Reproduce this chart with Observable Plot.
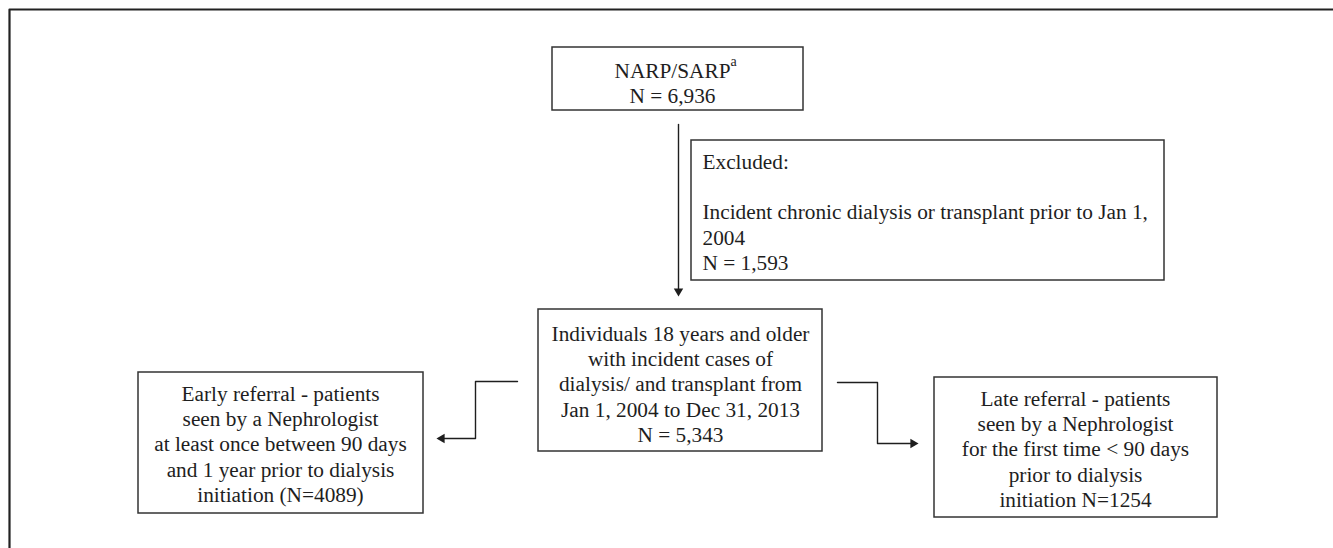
<!DOCTYPE html>
<html>
<head>
<meta charset="utf-8">
<script src="https://cdn.jsdelivr.net/npm/d3@7"></script>
<script src="https://cdn.jsdelivr.net/npm/@observablehq/plot@0.6"></script>
<style>
  html, body { margin: 0; padding: 0; background: #fff; }
  #chart svg { display: block; }
</style>
</head>
<body>
<div id="chart"></div>
<script>
// ---- Content (text and counts) ----
const boxIds = ["source", "excluded", "cohort", "early", "late"];
const boxTexts = [
  "NARP/SARP\nN = 6,936",
  "Excluded:\n\nIncident chronic dialysis or transplant prior to Jan 1,\n2004\nN = 1,593",
  "Individuals 18 years and older\nwith incident cases of\ndialysis/ and transplant from\nJan 1, 2004 to Dec 31, 2013\nN = 5,343",
  "Early referral - patients\nseen by a Nephrologist\nat least once between 90 days\nand 1 year prior to dialysis\ninitiation (N=4089)",
  "Late referral - patients\nseen by a Nephrologist\nfor the first time < 90 days\nprior to dialysis\ninitiation N=1254"
];
const footnoteMark = "a";
const flowFrom = ["source", "cohort", "cohort"];
const flowTo = ["cohort", "early", "late"];

// ---- Layout (pixel canvas coordinates) ----
const W = 1333, H = 548;
const layout = {
  source:   {x1: 552, x2: 803,  y1: 47,  y2: 110, tx: 672,  ty: 59,  anchor: "middle"},
  excluded: {x1: 691, x2: 1164, y1: 140, y2: 280, tx: 702,  ty: 150, anchor: "start"},
  cohort:   {x1: 538, x2: 822,  y1: 309, y2: 451, tx: 680,  ty: 322, anchor: "middle"},
  early:    {x1: 138, x2: 423,  y1: 372, y2: 513, tx: 280,  ty: 382, anchor: "middle"},
  late:     {x1: 934, x2: 1217, y1: 377, y2: 517, tx: 1075, ty: 387, anchor: "middle"}
};
const boxes = boxIds.map((id, i) => ({id, text: boxTexts[i], ...layout[id]}));

const connectorPaths = [
  [[678, 124], [678, 290]],
  [[517, 381], [475, 381], [475, 438], [442, 438]],
  [[837, 382], [877, 382], [877, 443], [912, 443]]
];
const connectors = connectorPaths.flatMap((pts, k) =>
  pts.map(([x, y]) => ({k, from: flowFrom[k], to: flowTo[k], x, y})));
const heads = [
  {x: 678, y: 296 - 5.4, rot: 180},
  {x: 436 + 5.4, y: 438, rot: -90},
  {x: 918 - 5.4, y: 443, rot: 90}
];
const frame = [{x: 9, y: H}, {x: 9, y: 9}, {x: W, y: 9}];

const font = "'Liberation Serif', 'Times New Roman', Times, serif";
const ink = "#1e1e1e";
const fs = 21.3;

const centered = boxes.filter(b => b.anchor === "middle");
const leftAligned = boxes.filter(b => b.anchor === "start");

const chart = Plot.plot({
  width: W,
  height: H,
  margin: 0,
  x: {domain: [0, W], axis: null},
  y: {domain: [0, H], reverse: true, axis: null},
  style: {fontFamily: font, background: "#fff"},
  marks: [
    Plot.line(frame, {x: "x", y: "y", stroke: "#222", strokeWidth: 2.2}),
    Plot.rect(boxes, {x1: "x1", x2: "x2", y1: "y1", y2: "y2", fill: "#fff", stroke: "#333", strokeWidth: 1.5}),
    Plot.line(connectors, {x: "x", y: "y", z: "k", stroke: ink, strokeWidth: 1.4}),
    Plot.dot(heads, {x: "x", y: "y", symbol: "triangle", r: 3.5, fill: ink, stroke: "none", rotate: "rot"}),
    Plot.text(centered, {
      x: "tx", y: "ty", text: "text", textAnchor: "middle", lineAnchor: "top", lineHeight: 1.19,
      fontSize: fs, fill: ink, fontFamily: font
    }),
    Plot.text(leftAligned, {
      x: "tx", y: "ty", text: "text", textAnchor: "start", lineAnchor: "top", lineHeight: 1.19,
      fontSize: fs, fill: ink, fontFamily: font
    }),
    Plot.text([footnoteMark], {
      x: () => 730, y: () => 56, text: d => d, textAnchor: "start", lineAnchor: "top",
      fontSize: 14, fill: ink, fontFamily: font
    })
  ]
});
document.getElementById("chart").appendChild(chart);
</script>
</body>
</html>
